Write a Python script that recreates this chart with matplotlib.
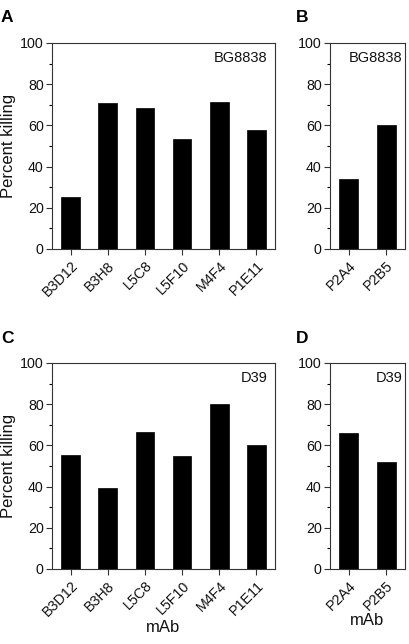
#!/usr/bin/env python3
"""Percent killing by mAb against two strains (panels A-D)."""

import matplotlib

matplotlib.use("Agg")
import matplotlib.pyplot as plt
from matplotlib.ticker import MultipleLocator

plt.rcParams["font.family"] = ["Liberation Sans", "DejaVu Sans"]

mabs_left = ["B3D12", "B3H8", "L5C8", "L5F10", "M4F4", "P1E11"]
mabs_right = ["P2A4", "P2B5"]

bg8838_left = [25.2, 70.8, 68.3, 53.3, 71.4, 57.8]
bg8838_right = [34.1, 60.4]
d39_left = [55.4, 39.4, 66.7, 54.9, 80.3, 60.4]
d39_right = [66.2, 51.9]

W, H = 410, 644


def style_axis(ax, labels, values, strain, show_ylabel, show_xlabel):
    x = list(range(len(labels)))
    ax.bar(x, values, width=0.5, color="black", edgecolor="black", linewidth=0.5)
    ax.set_xlim(-0.5, len(labels) - 0.5)
    ax.set_ylim(0, 100)
    ax.yaxis.set_major_locator(MultipleLocator(20))
    ax.yaxis.set_minor_locator(MultipleLocator(10))
    ax.set_xticks(x)
    ax.set_xticklabels(labels, rotation=45, ha="right", rotation_mode="anchor")
    ax.tick_params(axis="both", labelsize=10.3, color="#333333", width=0.8,
                   direction="out", labelcolor="#111111")
    ax.tick_params(axis="y", which="major", length=4, pad=2)
    ax.tick_params(axis="y", which="minor", length=2.2, width=0.8)
    ax.tick_params(axis="x", length=4, pad=3)
    for spine in ax.spines.values():
        spine.set_color("#333333")
        spine.set_linewidth(0.8)
    ax.text(0.968, 0.925, strain, transform=ax.transAxes, ha="right", va="center",
            fontsize=10.5, color="#111111")
    if show_ylabel:
        ax.set_ylabel("Percent killing", fontsize=12, labelpad=3, color="#111111")
    if show_xlabel:
        ax.set_xlabel("mAb", fontsize=12, labelpad=0, color="#111111")


fig = plt.figure(figsize=(W / 100, H / 100), dpi=100)

left_a, width_a = 52 / W, 223 / W
left_b, width_b = 330 / W, 75 / W
height = 206 / H
bottom_top = (H - 249) / H
bottom_low = (H - 569) / H

ax_a = fig.add_axes([left_a, bottom_top, width_a, height])
ax_b = fig.add_axes([left_b, bottom_top, width_b, height])
ax_c = fig.add_axes([left_a, bottom_low, width_a, height])
ax_d = fig.add_axes([left_b, bottom_low, width_b, height])

style_axis(ax_a, mabs_left, bg8838_left, "BG8838", True, False)
style_axis(ax_b, mabs_right, bg8838_right, "BG8838", False, False)
style_axis(ax_c, mabs_left, d39_left, "D39", True, True)
style_axis(ax_d, mabs_right, d39_right, "D39", False, True)

for letter, (px, py) in zip("ABCD", [(1, 18), (296, 18), (1, 338), (296, 338)]):
    fig.text(px / W, 1 - py / H, letter, fontsize=12.5, fontweight="bold",
             ha="left", va="center")

fig.savefig("out.png", dpi=100)
